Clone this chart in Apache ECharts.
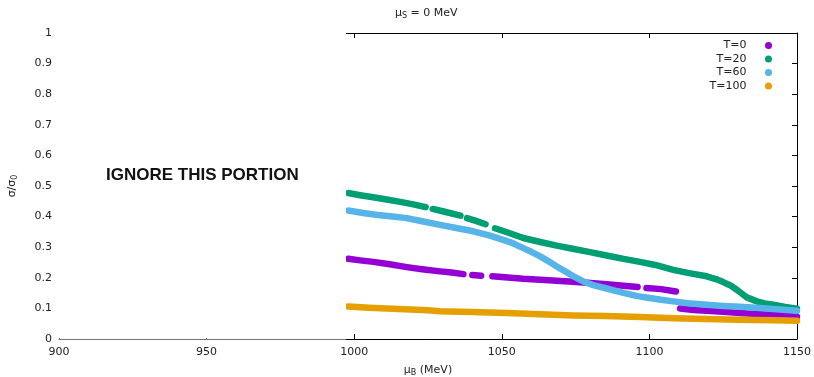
<!DOCTYPE html>
<html>
<head>
<meta charset="utf-8">
<script src="https://cdn.jsdelivr.net/npm/echarts@6/dist/echarts.min.js"></script>
<style>
  html, body { margin: 0; padding: 0; background: #fff; }
  #chart { width: 814px; height: 377px; }
</style>
</head>
<body>
<div id="chart"></div>
<script>
// mu_B (MeV) and sigma/sigma0; null = gap in the points
const muB_T0 = [998, 1002, 1006.5, 1012, 1017.8, 1023, 1029.1, 1033, 1037, 1038.5, 1040, 1043, 1045, 1046.8, 1052, 1057.3, 1063, 1068.6, 1074, 1080, 1085.5, 1091.2, 1096, 1097.5, 1099, 1104, 1109, 1109.7, 1110.4, 1115, 1119.4, 1125, 1130.7, 1136, 1142, 1150];
const sig_T0 = [0.262, 0.257, 0.252, 0.244, 0.235, 0.228, 0.221, 0.217, 0.212, null, 0.209, 0.207, null, 0.205, 0.201, 0.197, 0.194, 0.190, 0.187, 0.183, 0.179, 0.174, 0.170, null, 0.167, 0.163, 0.155, null, 0.100, 0.095, 0.092, 0.089, 0.085, 0.082, 0.079, 0.073];

const muB_T20 = [998, 1002, 1006.4, 1011, 1015.6, 1020, 1024.2, 1025.4, 1026.6, 1031, 1036, 1037.1, 1038.2, 1041.5, 1044.5, 1046.1, 1047.7, 1052, 1057.3, 1063, 1068.6, 1074, 1079.9, 1085.5, 1091.2, 1096.8, 1102, 1108.1, 1113, 1119.4, 1122.5, 1125, 1127.5, 1129.6, 1131.5, 1133, 1136.4, 1139, 1142, 1146, 1150];
const sig_T20 = [0.477, 0.470, 0.463, 0.456, 0.448, 0.440, 0.431, null, 0.425, 0.415, 0.403, null, 0.395, 0.385, 0.375, null, 0.362, 0.348, 0.330, 0.317, 0.305, 0.295, 0.284, 0.273, 0.262, 0.252, 0.242, 0.226, 0.216, 0.205, 0.196, 0.186, 0.175, 0.161, 0.147, 0.136, 0.123, 0.116, 0.112, 0.105, 0.099];

const muB_T60 = [998, 1003, 1008, 1013, 1017.8, 1023, 1029.1, 1035, 1040.4, 1046, 1049.4, 1053, 1057.3, 1060, 1063, 1066, 1068.6, 1071.5, 1074.3, 1077.6, 1081, 1085.5, 1091.2, 1096, 1100, 1104, 1108.1, 1113, 1119.4, 1125, 1130.7, 1136, 1142, 1150];
const sig_T60 = [0.420, 0.412, 0.405, 0.400, 0.395, 0.385, 0.373, 0.362, 0.352, 0.338, 0.327, 0.316, 0.297, 0.285, 0.270, 0.253, 0.237, 0.221, 0.205, 0.188, 0.176, 0.165, 0.151, 0.140, 0.134, 0.128, 0.123, 0.117, 0.112, 0.108, 0.105, 0.102, 0.098, 0.092];

const muB_T100 = [998, 1005, 1015, 1025, 1029.1, 1040, 1051.7, 1063, 1074.3, 1085, 1096.8, 1108, 1119.4, 1130, 1142, 1150];
const sig_T100 = [0.106, 0.102, 0.098, 0.094, 0.091, 0.088, 0.085, 0.081, 0.077, 0.075, 0.072, 0.068, 0.065, 0.063, 0.061, 0.060];

const seriesNames = ["T=0", "T=20", "T=60", "T=100"];
const seriesColors = ["#9400d3", "#009e73", "#56b4e9", "#e69f00"];

const xTicks = [900, 950, 1000, 1050, 1100, 1150];
const yTicks = [0, 0.1, 0.2, 0.3, 0.4, 0.5, 0.6, 0.7, 0.8, 0.9, 1];

function pairs(xs, ys) {
    return xs.map((x, i) => [x, ys[i]]);
}

function makeSeries(name, color, xs, ys) {
    return {
        name: name,
        type: "line",
        xAxisIndex: 0,
        yAxisIndex: 0,
        data: pairs(xs, ys),
        symbol: "none",
        connectNulls: false,
        color: color,
        lineStyle: { width: 6.5, color: color, cap: "round", join: "round" }
    };
}

const font = "DejaVu Sans";
const sub = { fontSize: 8, fontFamily: font, color: "#222", padding: [6, 0, 0, 0] };
const tick = { show: true, inside: true, length: 5, lineStyle: { color: "#000" } };
const border = { show: true, onZero: false, lineStyle: { color: "#000", width: 1 } };

const chart = echarts.init(document.getElementById("chart"));
chart.setOption({
    animation: false,
    title: {
        text: "μ{s|S} = 0 MeV",
        left: 390,
        top: 1,
        textStyle: { fontSize: 11, fontWeight: "normal", fontFamily: font, color: "#222", rich: { s: sub } }
    },
    legend: {
        orient: "vertical",
        right: 37,
        top: 35,
        align: "right",
        icon: "circle",
        itemWidth: 34,
        itemHeight: 7,
        itemGap: 2.5,
        textStyle: { fontSize: 11, fontFamily: font, color: "#222" },
        data: seriesNames
    },
    grid: { left: 59, right: 17, top: 33, bottom: 38, containLabel: false, outerBoundsMode: "none" },
    xAxis: [{
        type: "value",
        min: xTicks[0],
        max: xTicks[xTicks.length - 1],
        interval: 50,
        name: "μ{s|B} (MeV)",
        nameLocation: "middle",
        nameGap: 24,
        nameTextStyle: { fontSize: 11, fontFamily: font, color: "#222", rich: { s: sub } },
        axisLine: border,
        axisTick: tick,
        axisLabel: { margin: 8, fontSize: 11, fontFamily: font, color: "#222", formatter: v => String(v) },
        splitLine: { show: false }
    }, {
        type: "value",
        position: "top",
        min: xTicks[0],
        max: xTicks[xTicks.length - 1],
        interval: 50,
        axisLine: border,
        axisTick: tick,
        axisLabel: { show: false },
        splitLine: { show: false }
    }],
    yAxis: [{
        type: "value",
        min: yTicks[0],
        max: yTicks[yTicks.length - 1],
        interval: 0.1,
        name: "σ/σ{s|0}",
        nameLocation: "middle",
        nameGap: 40,
        nameTextStyle: { fontSize: 11, fontFamily: font, color: "#222", rich: { s: sub } },
        axisLine: { show: false },
        axisTick: { show: false },
        axisLabel: { margin: 7, fontSize: 11, fontFamily: font, color: "#222" },
        splitLine: { show: false }
    }, {
        type: "value",
        position: "right",
        min: yTicks[0],
        max: yTicks[yTicks.length - 1],
        interval: 0.1,
        axisLine: border,
        axisTick: tick,
        axisLabel: { show: false },
        splitLine: { show: false }
    }],
    series: [
        makeSeries(seriesNames[0], seriesColors[0], muB_T0, sig_T0),
        makeSeries(seriesNames[1], seriesColors[1], muB_T20, sig_T20),
        makeSeries(seriesNames[2], seriesColors[2], muB_T60, sig_T60),
        makeSeries(seriesNames[3], seriesColors[3], muB_T100, sig_T100)
    ],
    graphic: [{
        type: "rect",
        z: 100,
        shape: { x: 56, y: 26, width: 290, height: 312 },
        style: { fill: "#fff" }
    }, {
        type: "rect",
        z: 100,
        shape: { x: 56, y: 338, width: 290, height: 3 },
        style: { fill: "rgba(255,255,255,0.45)" }
    }, {
        type: "text",
        z: 101,
        left: 106,
        top: 167,
        style: { text: "IGNORE THIS PORTION", font: "bold 17px 'Liberation Sans', Arial, sans-serif", fill: "#111" }
    }]
});
</script>
</body>
</html>
